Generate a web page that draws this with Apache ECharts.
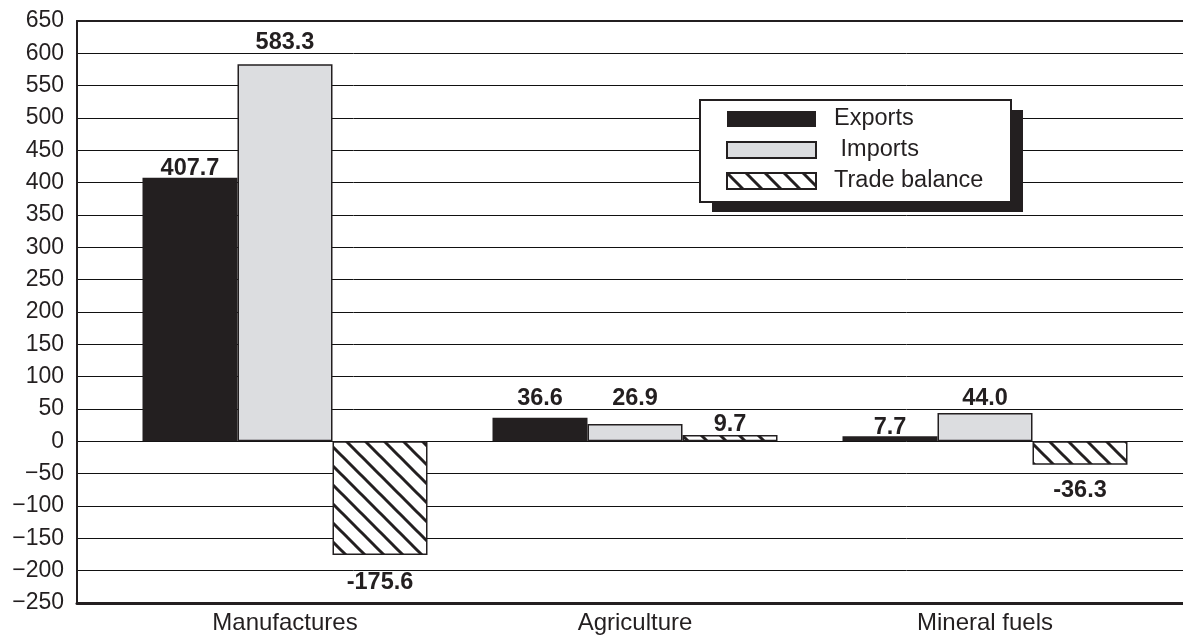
<!DOCTYPE html>
<html>
<head>
<meta charset="utf-8">
<script src="https://cdn.jsdelivr.net/npm/echarts@6/dist/echarts.min.js"></script>
<style>
  html, body { margin: 0; padding: 0; background: #fff; }
  #chart { width: 1183px; height: 635px; }
</style>
</head>
<body>
<div id="chart"></div>
<script>
// Trade by product group (billions of dollars)
const categories = ['Manufactures', 'Agriculture', 'Mineral fuels'];
const exportsValues = [407.7, 36.6, 7.7];
const importsValues = [583.3, 26.9, 44.0];
const balanceValues = [-175.6, 9.7, -36.3];
const yMin = -250;
const yMax = 650;
const yStep = 50;

// How far each value label sits from the end of its bar (px)
const exportsLabelGap = [-3, 7, -3];
const importsLabelGap = [10, 13, 2];
const balanceLabelGap = [16, -1, 14];

const INK = '#231f20';
const FONT = '"Liberation Sans", Arial, Helvetica, sans-serif';

// Legend frame (box plus solid drop shadow), drawn behind the legend items
const LEGEND_BOX = { x: 700, y: 100, w: 311, h: 102, shadowX: 12, shadowY: 10 };

// White tile with diagonal "\" stripes for the trade balance bars
function hatchTile(size, lineWidth) {
  const c = document.createElement('canvas');
  c.width = size; c.height = size;
  const g = c.getContext('2d');
  g.fillStyle = '#ffffff';
  g.fillRect(0, 0, size, size);
  g.strokeStyle = INK;
  g.lineWidth = lineWidth;
  for (let k = -1; k <= 1; k++) {
    g.beginPath();
    g.moveTo(-2, -2 + k * size);
    g.lineTo(size + 2, size + 2 + k * size);
    g.stroke();
  }
  return c;
}

function labelled(values, gaps) {
  return values.map((v, i) => ({
    value: v,
    label: { position: v < 0 ? 'bottom' : 'top', distance: gaps[i] }
  }));
}

const valueLabel = {
  show: true,
  fontFamily: FONT,
  fontSize: 23.5,
  fontWeight: 'bold',
  color: INK,
  formatter: p => p.value.toFixed(1)
};

const chart = echarts.init(document.getElementById('chart'), null, { renderer: 'canvas' });

chart.setOption({
  animation: false,
  backgroundColor: '#ffffff',
  textStyle: { fontFamily: FONT },
  grid: [
    { left: 77, top: 21, right: 0, bottom: 32, containLabel: false },
    { left: 110, width: 1050, top: 21, bottom: 32, containLabel: false }
  ],
  graphic: [
    {
      type: 'rect', z: 3,
      shape: { x: LEGEND_BOX.x + LEGEND_BOX.shadowX, y: LEGEND_BOX.y + LEGEND_BOX.shadowY, width: LEGEND_BOX.w, height: LEGEND_BOX.h },
      style: { fill: INK }
    },
    {
      type: 'rect', z: 3,
      shape: { x: LEGEND_BOX.x, y: LEGEND_BOX.y, width: LEGEND_BOX.w, height: LEGEND_BOX.h },
      style: { fill: '#ffffff', stroke: INK, lineWidth: 2 }
    }
  ],
  legend: {
    z: 5,
    orient: 'vertical',
    left: LEGEND_BOX.x,
    top: LEGEND_BOX.y,
    padding: [7, 28, 15, 26],
    itemWidth: 89,
    itemHeight: 16,
    itemGap: 7,
    icon: 'rect',
    formatter: name => (name === 'Imports' ? ' Imports' : name),
    textStyle: { fontFamily: FONT, fontSize: 23.5, color: INK, padding: [0, 0, 0, 13] }
  },
  xAxis: [
    {
      gridIndex: 0,
      type: 'category',
      position: 'bottom',
      data: categories,
      axisLine: { show: true, onZero: false, lineStyle: { color: INK, width: 3 } },
      axisTick: { show: false },
      axisLabel: { show: false },
      splitLine: { show: false }
    },
    {
      // top edge of the plot frame
      gridIndex: 0,
      type: 'category',
      position: 'top',
      data: categories,
      axisLine: { show: true, onZero: false, lineStyle: { color: INK, width: 2 } },
      axisTick: { show: false },
      axisLabel: { show: false },
      splitLine: { show: false }
    },
    {
      gridIndex: 1,
      type: 'category',
      data: categories,
      axisLine: { show: false, onZero: false },
      axisTick: { show: false },
      axisLabel: { fontFamily: FONT, fontSize: 24, color: INK, margin: 8 },
      splitLine: { show: false }
    }
  ],
  yAxis: [
    {
      gridIndex: 0,
      type: 'value',
      min: yMin,
      max: yMax,
      interval: yStep,
      axisLine: { show: true, lineStyle: { color: INK, width: 2 } },
      axisTick: { show: false },
      axisLabel: {
        fontFamily: FONT,
        fontSize: 23,
        color: INK,
        margin: 13,
        formatter: v => (v < 0 ? '\u2212' + Math.abs(v) : String(v))
      },
      splitLine: { show: true, lineStyle: { color: '#111111', width: 1 } }
    },
    {
      gridIndex: 1,
      type: 'value',
      min: yMin,
      max: yMax,
      interval: yStep,
      show: false,
      splitLine: { show: false }
    }
  ],
  series: [
    {
      name: 'Exports',
      type: 'bar',
      xAxisIndex: 2,
      yAxisIndex: 1,
      barWidth: 95,
      barGap: '0%',
      data: labelled(exportsValues, exportsLabelGap),
      itemStyle: { color: INK },
      label: valueLabel
    },
    {
      name: 'Imports',
      type: 'bar',
      xAxisIndex: 2,
      yAxisIndex: 1,
      barWidth: 95,
      barGap: '0%',
      data: labelled(importsValues, importsLabelGap),
      itemStyle: { color: '#dcdde0', borderColor: INK, borderWidth: 1.5 },
      label: valueLabel
    },
    {
      name: 'Trade balance',
      type: 'bar',
      xAxisIndex: 2,
      yAxisIndex: 1,
      barWidth: 95,
      barGap: '0%',
      data: labelled(balanceValues, balanceLabelGap),
      itemStyle: {
        color: { image: hatchTile(19, 3), repeat: 'repeat' },
        borderColor: INK,
        borderWidth: 1.5
      },
      label: valueLabel
    }
  ]
});
</script>
</body>
</html>
